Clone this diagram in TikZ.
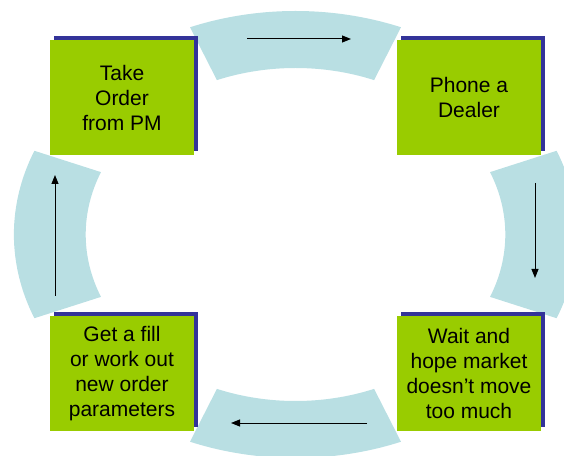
\documentclass[tikz,border=0pt]{standalone}
\usepackage{fontspec}
\setmainfont{Liberation Sans}
\usetikzlibrary{arrows.meta,shadows}
\definecolor{leafgreen}{RGB}{153,204,0}
\definecolor{navyshade}{RGB}{51,51,153}
\definecolor{paleteal}{RGB}{185,223,227}

\begin{document}
\begin{tikzpicture}[x=1pt,y=1pt,>={Triangle[length=9pt,width=7pt]},
 every node/.style={font=\fontsize{21}{25}\selectfont},
 stepbox/.style={fill=leafgreen,minimum width=144pt,minimum height=115pt,inner sep=0pt,align=center,
  general shadow={fill=navyshade,shadow xshift=4pt,shadow yshift=4pt}},
 flow/.style={->,line width=1pt,black}]
\useasboundingbox(0,0)rectangle(564,455);\clip(0,0)rectangle(564,455);
% ring of four sectors
\foreach \a in {0,90,180,270}
 \fill[paleteal,shift={(295.5,220.5)}](\a-22:281.6pt and 223.5pt)
  arc[start angle=\a-22,end angle=\a+22,x radius=281.6pt,y radius=223.5pt]
  --(\a+22:209.8pt and 166.5pt)
  arc[start angle=\a+22,end angle=\a-22,x radius=209.8pt,y radius=166.5pt]--cycle;
\node[stepbox](take)at(122,357.5){Take\\Order\\from PM};
\node[stepbox](phone)at(469,357.5){Phone a\\Dealer};
\node[stepbox](wait)at(469,81.5){Wait and\\hope market\\doesn’t move\\too much};
\node[stepbox](fill)at(122,81.5){Get a fill\\or work out\\new order\\parameters};
\coordinate(t1)at(247,416);\coordinate(t2)at(351,416);
\coordinate(r1)at(535,272);\coordinate(r2)at(535,177);
\coordinate(b1)at(367,32);\coordinate(b2)at(231,32);
\coordinate(l1)at(55,159);\coordinate(l2)at(55,280);
\draw[flow](t1)--(t2);\draw[flow](r1)--(r2);
\draw[flow](b1)--(b2);\draw[flow](l1)--(l2);
\end{tikzpicture}
\end{document}
